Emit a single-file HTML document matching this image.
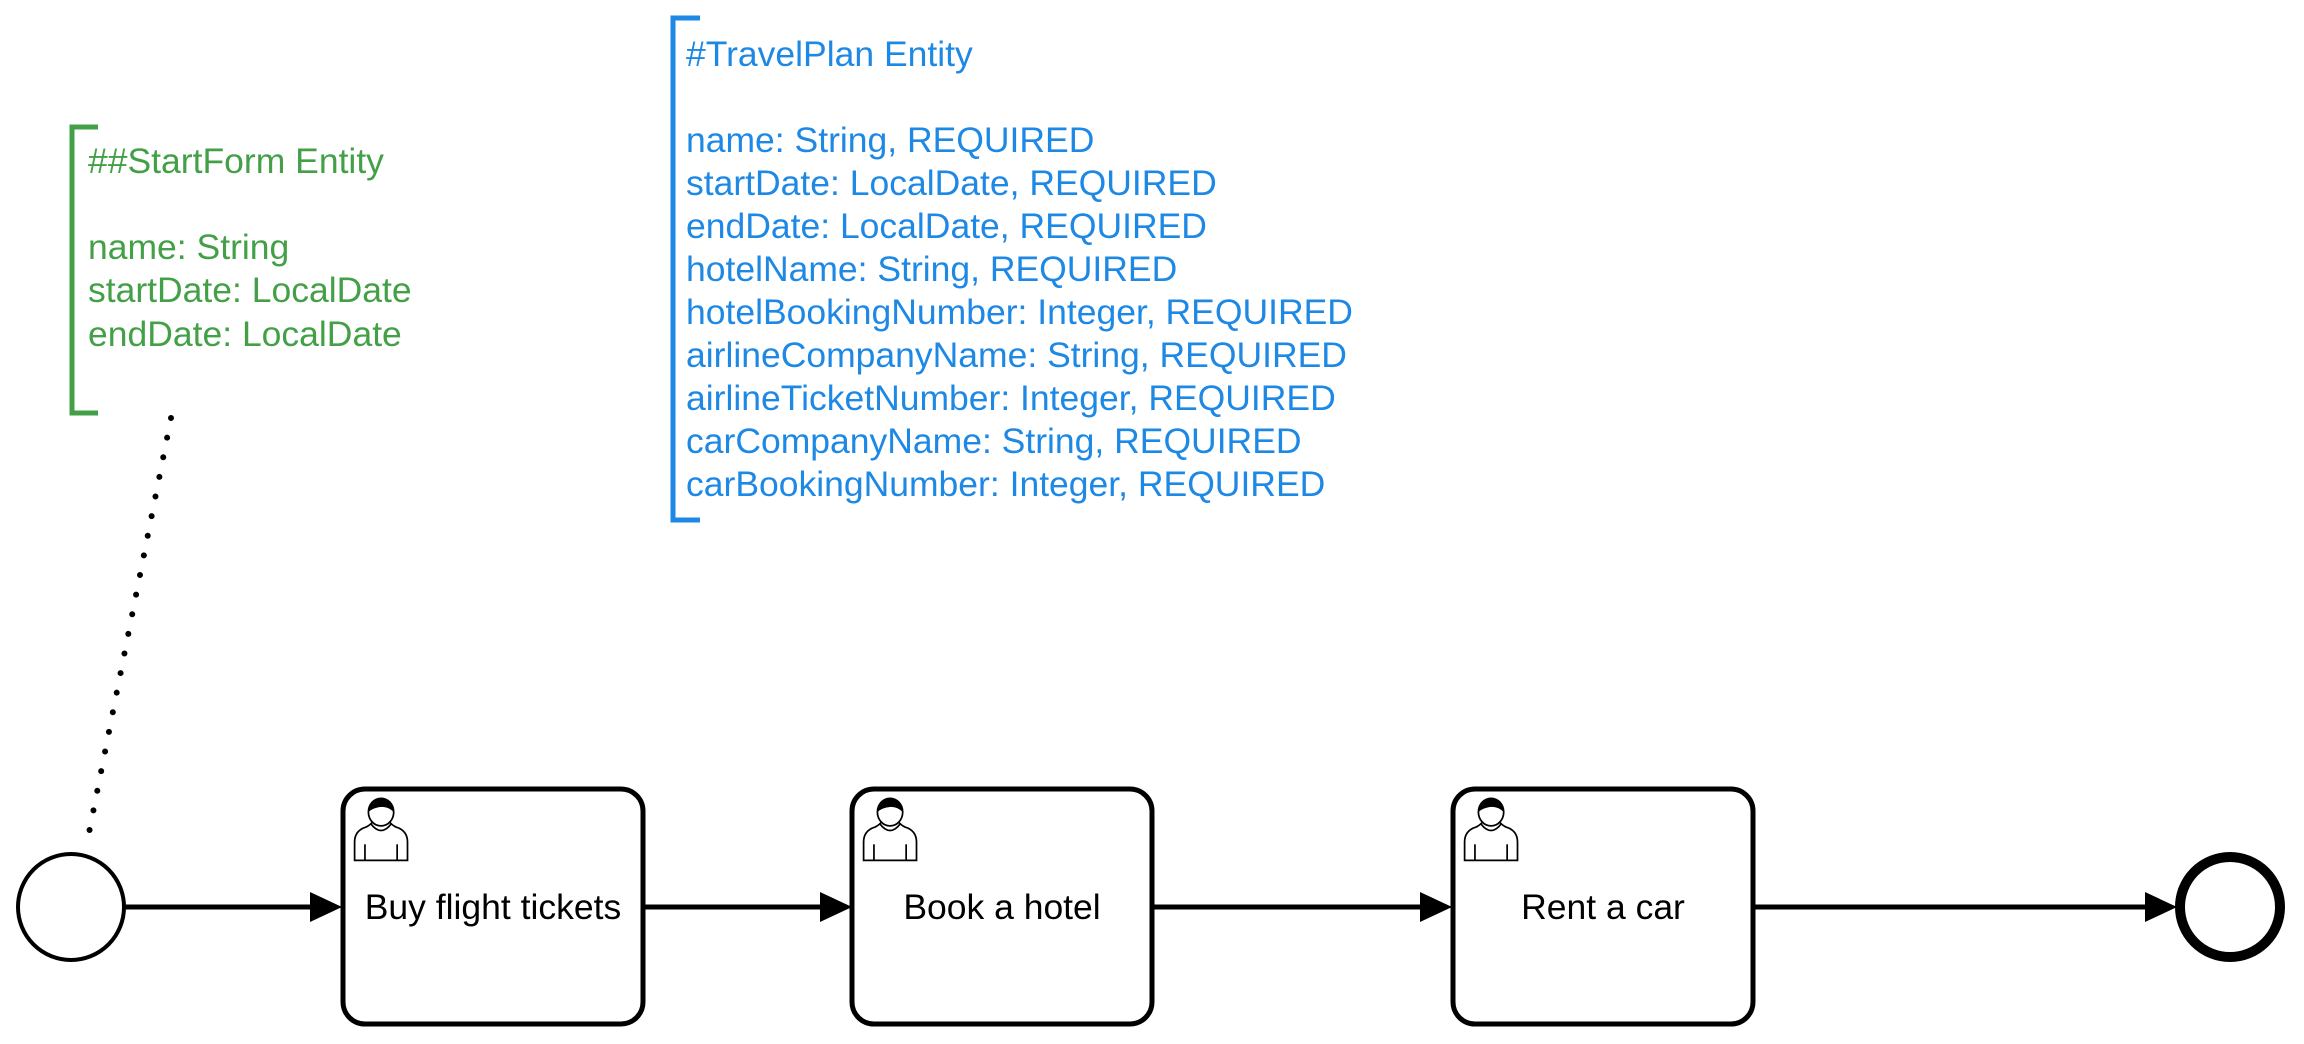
<!DOCTYPE html>
<html><head><meta charset="utf-8"><style>
html,body{margin:0;padding:0;background:#fff;width:2304px;height:1044px;overflow:hidden}
svg{display:block}
text{font-family:"Liberation Sans",Arial,sans-serif}
</style></head><body>
<svg width="2304" height="1044" viewBox="0 0 2304 1044" xmlns="http://www.w3.org/2000/svg">
<defs>
<g id="user">
 <path d="M4 56 V40 Q4 30 14 27 Q18 25 20 22 L34 22 Q36 25 40 27 Q50 30 50 40 V56 Z" fill="#fff" stroke="#000" stroke-width="1.5"/>
 <path d="M18 24 Q27 36 36 24" fill="none" stroke="#000" stroke-width="1.5"/>
 <ellipse cx="27" cy="14" rx="11" ry="12" fill="#fff" stroke="#000" stroke-width="1.5"/>
 <path d="M16 14 Q16 2 27 2 Q38 2 38 14 Q32 8 24 10 Q19 11 16 14 Z" fill="#000"/>
 <line x1="13" y1="42" x2="13" y2="56" stroke="#000" stroke-width="1.5"/>
 <line x1="41" y1="42" x2="41" y2="56" stroke="#000" stroke-width="1.5"/>
</g>
</defs>
<!-- green bracket -->
<path d="M98 127 H72 V413 H98" fill="none" stroke="#43a047" stroke-width="5"/>
<g fill="#43a047" font-size="35.5">
<text x="88" y="173">##StartForm Entity</text>
<text x="88" y="259">name: String</text>
<text x="88" y="302">startDate: LocalDate</text>
<text x="88" y="346">endDate: LocalDate</text>
</g>
<!-- blue bracket -->
<path d="M700 18 H673 V520 H700" fill="none" stroke="#1e88e5" stroke-width="5"/>
<g fill="#1e88e5" font-size="35.5">
<text x="686" y="66">#TravelPlan Entity</text>
<text x="686" y="152">name: String, REQUIRED</text>
<text x="686" y="195">startDate: LocalDate, REQUIRED</text>
<text x="686" y="238">endDate: LocalDate, REQUIRED</text>
<text x="686" y="281">hotelName: String, REQUIRED</text>
<text x="686" y="324">hotelBookingNumber: Integer, REQUIRED</text>
<text x="686" y="367">airlineCompanyName: String, REQUIRED</text>
<text x="686" y="410">airlineTicketNumber: Integer, REQUIRED</text>
<text x="686" y="453">carCompanyName: String, REQUIRED</text>
<text x="686" y="496">carBookingNumber: Integer, REQUIRED</text>
</g>
<!-- dotted association -->
<line x1="171" y1="418" x2="86" y2="848" stroke="#000" stroke-width="6" stroke-linecap="round" stroke-dasharray="0 20"/>
<!-- start event -->
<circle cx="71" cy="907" r="53" fill="#fff" stroke="#000" stroke-width="4"/>
<!-- flows -->
<g stroke="#000" stroke-width="5">
<line x1="124" y1="907" x2="315" y2="907"/>
<line x1="644" y1="907" x2="824" y2="907"/>
<line x1="1153" y1="907" x2="1425" y2="907"/>
<line x1="1753" y1="907" x2="2150" y2="907"/>
</g>
<g fill="#000">
<polygon points="310,892 342,907 310,922"/>
<polygon points="820,892 852,907 820,922"/>
<polygon points="1420,892 1452,907 1420,922"/>
<polygon points="2145,892 2177,907 2145,922"/>
</g>
<!-- tasks -->
<g fill="#fff" stroke="#000" stroke-width="5">
<rect x="343" y="789" width="300" height="235" rx="22"/>
<rect x="852" y="789" width="300" height="235" rx="22"/>
<rect x="1453" y="789" width="300" height="235" rx="22"/>
</g>
<use href="#user" transform="translate(350,796) scale(1.15)"/>
<use href="#user" transform="translate(859,796) scale(1.15)"/>
<use href="#user" transform="translate(1460,796) scale(1.15)"/>
<g font-size="35.5" text-anchor="middle" fill="#000">
<text x="493" y="919">Buy flight tickets</text>
<text x="1002" y="919">Book a hotel</text>
<text x="1603" y="919">Rent a car</text>
</g>
<!-- end event -->
<circle cx="2230" cy="907" r="50" fill="#fff" stroke="#000" stroke-width="10"/>
</svg>
</body></html>
